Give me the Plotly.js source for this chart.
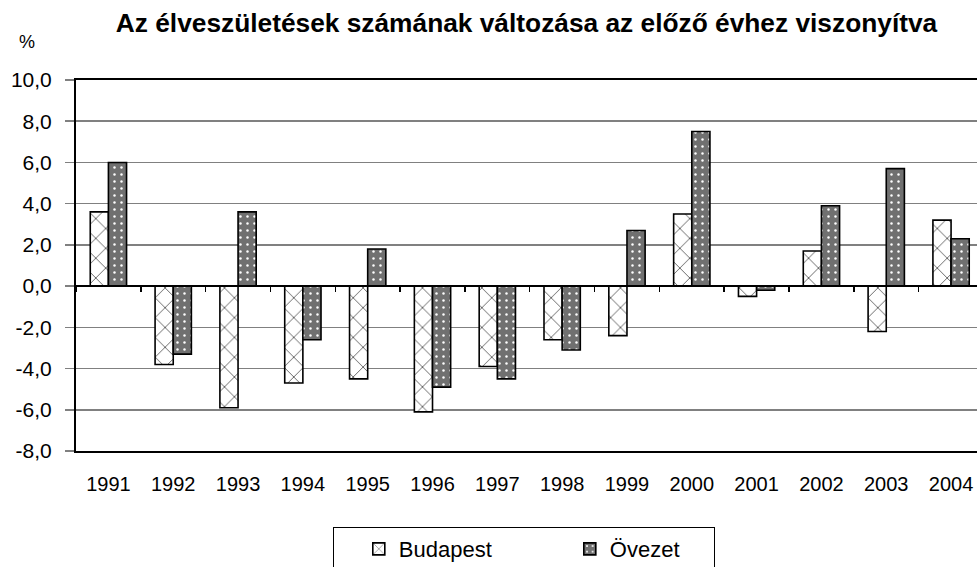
<!DOCTYPE html>
<html>
<head>
<meta charset="utf-8">
<script src="https://cdn.plot.ly/plotly-3.0.1.min.js"></script>
<style>html,body{margin:0;padding:0;background:#fff;}#chart{width:977px;height:567px;}</style>
</head>
<body>
<div id="chart"></div>
<script>
const years = ['1991','1992','1993','1994','1995','1996','1997','1998','1999','2000','2001','2002','2003','2004'];
const budapest = [3.6, -3.8, -5.9, -4.7, -4.5, -6.1, -3.9, -2.6, -2.4, 3.5, -0.5, 1.7, -2.2, 3.2];
const ovezet   = [6.0, -3.3, 3.6, -2.6, 1.8, -4.9, -4.5, -3.1, 2.7, 7.5, -0.2, 3.9, 5.7, 2.3];
const seriesNames = ['Budapest', 'Övezet'];
const yTicks = [-8, -6, -4, -2, 0, 2, 4, 6, 8, 10];
const yTickText = yTicks.map(v => v.toFixed(1).replace('.', ','));

const font = 'Arial, "Liberation Sans", sans-serif';

const traces = [
  {
    type: 'bar', name: seriesNames[0], x: years, y: budapest,
    legendwidth: 166,
    marker: {
      color: '#ffffff',
      line: {color: '#000000', width: 1.6},
      pattern: {shape: 'x', bgcolor: '#ffffff', fgcolor: '#555555', size: 14, solidity: 0.12, fillmode: 'replace'}
    },
    hoverinfo: 'x+y'
  },
  {
    type: 'bar', name: seriesNames[1], x: years, y: ovezet,
    legendwidth: 98,
    marker: {
      color: '#777777',
      line: {color: '#000000', width: 1.6},
      pattern: {shape: '.', bgcolor: '#707070', fgcolor: '#ffffff', size: 7, solidity: 0.1, fillmode: 'replace'}
    },
    hoverinfo: 'x+y'
  },
  {
    type: 'scatter', mode: 'markers', x: years, y: budapest, xaxis: 'x2', yaxis: 'y',
    marker: {opacity: 0}, showlegend: false, hoverinfo: 'skip'
  }
];

const zeroPos = (0 - yTicks[0]) / (yTicks[yTicks.length - 1] - yTicks[0]);

const layout = {
  width: 977, height: 567,
  margin: {l: 76, r: 0, t: 80, b: 116},
  paper_bgcolor: '#ffffff', plot_bgcolor: '#ffffff',
  font: {family: font, size: 20, color: '#000000'},
  separators: ', ',
  title: {
    text: '<b>Az élveszületések számának változása az előző évhez viszonyítva</b>',
    font: {family: font, size: 26.3, color: '#000000'},
    xref: 'paper', x: 0.5, xanchor: 'center',
    yref: 'container', y: 0.959, yanchor: 'middle'
  },
  barmode: 'group',
  bargap: 0.44,
  bargroupgap: 0,
  xaxis: {
    type: 'category', categoryorder: 'array', categoryarray: years,
    range: [-0.5, 13.4],
    showgrid: false, zeroline: false,
    showline: true, mirror: true, linecolor: '#000000', linewidth: 2,
    ticks: '', ticklabelstandoff: 14,
    tickfont: {family: font, size: 20, color: '#000000'},
    fixedrange: true
  },
  xaxis2: {
    type: 'category', categoryorder: 'array', categoryarray: years,
    overlaying: 'x', anchor: 'free', position: zeroPos, matches: 'x',
    showgrid: false, zeroline: false,
    showline: true, linecolor: '#000000', linewidth: 2,
    ticks: 'outside', tickson: 'boundaries', ticklen: 5, tickwidth: 1.5, tickcolor: '#000000',
    showticklabels: false, fixedrange: true
  },
  yaxis: {
    range: [yTicks[0], yTicks[yTicks.length - 1]],
    tickmode: 'array', tickvals: yTicks, ticktext: yTickText,
    showgrid: true, gridcolor: '#808080', gridwidth: 1.5,
    zeroline: false,
    showline: true, mirror: true, linecolor: '#000000', linewidth: 2,
    ticks: 'outside', ticklen: 9, tickwidth: 1.5, tickcolor: '#808080',
    ticklabelstandoff: 9,
    tickfont: {family: font, size: 21, color: '#000000'},
    fixedrange: true
  },
  annotations: [{
    text: '%', xref: 'paper', yref: 'paper', x: -0.054, y: 1.102,
    xanchor: 'center', yanchor: 'middle', showarrow: false,
    font: {family: font, size: 18, color: '#000000'}
  }],
  legend: {
    orientation: 'h', x: 0.497, xanchor: 'center',
    yref: 'container', y: 0.0705, yanchor: 'top',
    bordercolor: '#000000', borderwidth: 1, bgcolor: '#ffffff',
    font: {family: font, size: 22, color: '#000000'},
    title: {text: '&nbsp;&nbsp;&nbsp;', side: 'left', font: {family: font, size: 18}},
    itemwidth: 30
  },
  showlegend: true
};

Plotly.newPlot('chart', traces, layout, {displayModeBar: false, staticPlot: true});
</script>
</body>
</html>
